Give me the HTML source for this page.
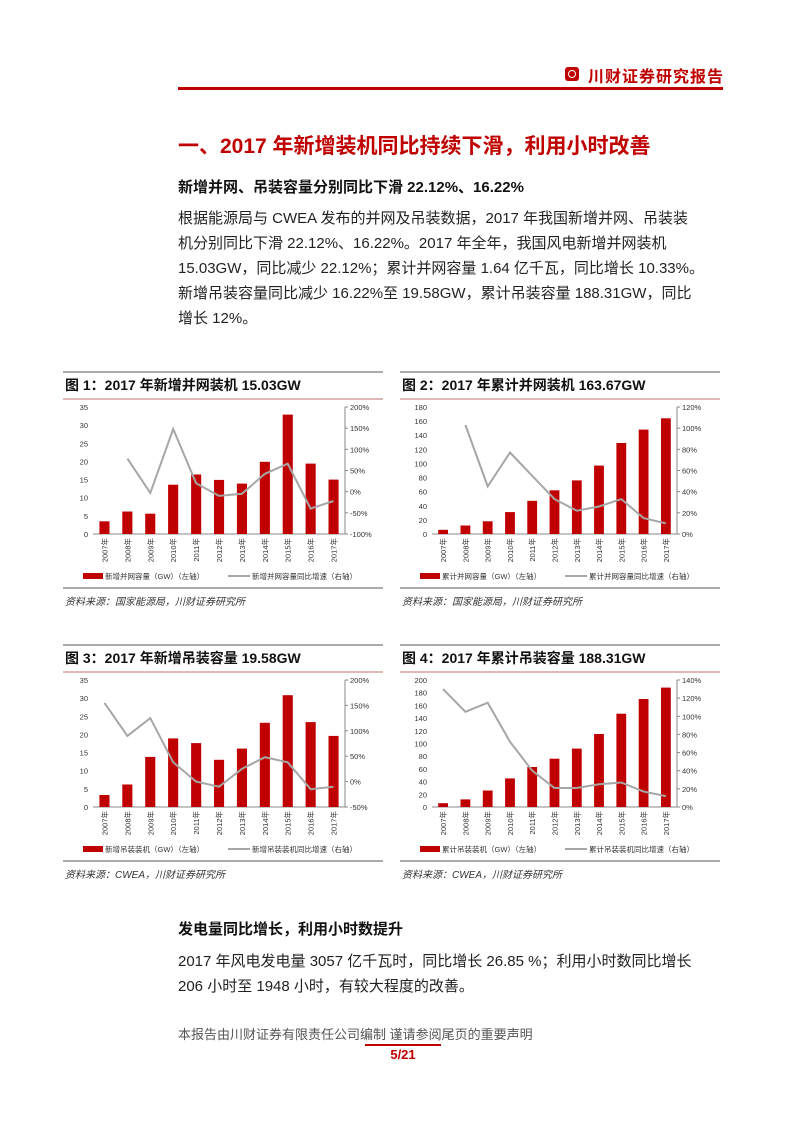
<!DOCTYPE html>
<html><head><meta charset="utf-8"><style>
body{margin:0;background:#fff;font-family:"Liberation Sans","Noto Sans CJK SC",sans-serif;}
#p{position:relative;width:793px;height:1122px;overflow:hidden;}
.a{position:absolute;white-space:nowrap;}
.body{font-size:15px;color:#222;line-height:25px;}
</style></head><body><div id="p">
<div class="a" style="left:565px;top:67px;width:14px;height:14px;background:#c00000;border-radius:3px"></div>
<div class="a" style="left:568px;top:70px;width:8px;height:8px;border:1px solid #fff;border-radius:50%;box-sizing:border-box"></div>
<div class="a" style="left:588px;top:63px;font-size:16px;font-weight:bold;color:#c00000;letter-spacing:1px">川财证券研究报告</div>
<div class="a" style="left:178px;top:87px;width:545px;height:3px;background:#c00000"></div>
<div class="a" style="left:178px;top:130px;font-size:21px;font-weight:bold;color:#c00000">一、2017 年新增装机同比持续下滑，利用小时改善</div>
<div class="a" style="left:178px;top:176px;font-size:15px;font-weight:bold;color:#111">新增并网、吊装容量分别同比下滑 22.12%、16.22%</div>
<div class="a body" style="left:178px;top:206px">根据能源局与 CWEA 发布的并网及吊装数据，2017 年我国新增并网、吊装装<br>机分别同比下滑 22.12%、16.22%。2017 年全年，我国风电新增并网装机<br>15.03GW，同比减少 22.12%；累计并网容量 1.64 亿千瓦，同比增长 10.33%。<br>新增吊装容量同比减少 16.22%至 19.58GW，累计吊装容量 188.31GW，同比<br>增长 12%。</div>
<svg id="s" class="a" style="left:0;top:0" width="793" height="1122"></svg>
<div class="a" style="left:178px;top:918px;font-size:15px;font-weight:bold;color:#111">发电量同比增长，利用小时数提升</div>
<div class="a body" style="left:178px;top:949px">2017 年风电发电量 3057 亿千瓦时，同比增长 26.85 %；利用小时数同比增长<br>206 小时至 1948 小时，有较大程度的改善。</div>
<div class="a" style="left:178px;top:1024px;font-size:13px;color:#555">本报告由川财证券有限责任公司编制 谨请参阅尾页的重要声明</div>
<div class="a" style="left:365px;top:1044px;width:76px;height:2px;background:#c00000"></div>
<div class="a" style="left:365px;top:1047px;width:76px;text-align:center;font-size:13px;font-weight:bold;color:#c00000">5/21</div>
</div>
<script>
var s=document.getElementById('s'),h='';
function t(x,y,str,o){h+='<text x="'+x+'" y="'+y+'" '+(o||'')+'>'+str+'</text>';}
function chart(cx,cy,title,L,R,bars,line,leg1,leg2,src){
 var W=320;
 h+='<line x1="'+cx+'" y1="'+cy+'" x2="'+(cx+W)+'" y2="'+cy+'" stroke="#555" stroke-width="1"/>';
 t(cx+2,cy+18,title,'font-size="14" font-weight="bold" fill="#111"');
 h+='<line x1="'+cx+'" y1="'+(cy+27)+'" x2="'+(cx+W)+'" y2="'+(cy+27)+'" stroke="#c07070" stroke-width="1"/>';
 var x0=cx+L.px,x1=cx+R.px,y0=cy+35,y1=cy+162;
 var lmax=L.max,ln=L.ticks.length-1;
 h+='<line x1="'+x0+'" y1="'+y1+'" x2="'+x1+'" y2="'+y1+'" stroke="#888"/>';
 h+='<line x1="'+x1+'" y1="'+y0+'" x2="'+x1+'" y2="'+y1+'" stroke="#888"/>';
 L.ticks.forEach(function(v,i){var y=y1-(y1-y0)*i/ln;t(x0-5,y+3,v,'font-size="7.5" text-anchor="end" fill="#333"');});
 var rn=R.ticks.length-1;
 R.ticks.forEach(function(v,i){var y=y1-(y1-y0)*i/rn;h+='<line x1="'+x1+'" y1="'+y+'" x2="'+(x1+3)+'" y2="'+y+'" stroke="#888"/>';t(x1+5,y+3,v+'%','font-size="7.5" fill="#333"');});
 var n=11,cw=(x1-x0)/n,pts=[];
 bars.forEach(function(b,i){var bh=(y1-y0)*b/lmax,bx=x0+cw*i+cw*0.28;
  h+='<rect x="'+bx.toFixed(1)+'" y="'+(y1-bh).toFixed(1)+'" width="'+(cw*0.44).toFixed(1)+'" height="'+bh.toFixed(1)+'" fill="#c00000"/>';
  var lx=x0+cw*i+cw/2+3;t(lx,y1+4,(2007+i)+'年','font-size="7.5" fill="#333" text-anchor="end" transform="rotate(-90 '+lx+' '+(y1+4)+')"');
  if(line[i]!=null){var y=y1-(y1-y0)*(line[i]-R.min)/(R.max-R.min);pts.push((x0+cw*i+cw/2).toFixed(1)+','+y.toFixed(1));}
 });
 h+='<polyline points="'+pts.join(' ')+'" fill="none" stroke="#a6a6a6" stroke-width="2"/>';
 var ly=y1+44;
 h+='<rect x="'+(cx+20)+'" y="'+(ly-5)+'" width="20" height="6" fill="#c00000"/>';
 t(cx+42,ly+1,leg1,'font-size="7.5" fill="#333"');
 h+='<line x1="'+(cx+165)+'" y1="'+(ly-2)+'" x2="'+(cx+187)+'" y2="'+(ly-2)+'" stroke="#a6a6a6" stroke-width="2"/>';
 t(cx+189,ly+1,leg2,'font-size="7.5" fill="#333"');
 h+='<line x1="'+cx+'" y1="'+(ly+10)+'" x2="'+(cx+W)+'" y2="'+(ly+10)+'" stroke="#555"/>';
 t(cx+2,ly+27,src,'font-size="10" font-style="italic" fill="#333"');
}
chart(63,372,'图 1：2017 年新增并网装机 15.03GW',{px:30,max:35,ticks:[0,5,10,15,20,25,30,35]},{px:282,min:-100,max:200,ticks:[-100,-50,0,50,100,150,200]},
 [3.5,6.2,5.6,13.6,16.4,14.9,13.9,19.9,32.9,19.4,15],[null,78,-3,148,20,-10,-5,42,66,-40,-22],'新增并网容量（GW）（左轴）','新增并网容量同比增速（右轴）','资料来源：国家能源局，川财证券研究所');
chart(400,372,'图 2：2017 年累计并网装机 163.67GW',{px:32,max:180,ticks:[0,20,40,60,80,100,120,140,160,180]},{px:277,min:0,max:120,ticks:[0,20,40,60,80,100,120]},
 [6,12,18,31,47,62,76,97,129,148,164],[null,103,45,77,55,33,22,26,33,15,10],'累计并网容量（GW）（左轴）','累计并网容量同比增速（右轴）','资料来源：国家能源局，川财证券研究所');
chart(63,645,'图 3：2017 年新增吊装容量 19.58GW',{px:30,max:35,ticks:[0,5,10,15,20,25,30,35]},{px:282,min:-50,max:200,ticks:[-50,0,50,100,150,200]},
 [3.3,6.2,13.8,18.9,17.6,13,16.1,23.2,30.8,23.4,19.6],[155,90,125,38,0,-10,25,48,38,-15,-10],'新增吊装装机（GW）（左轴）','新增吊装装机同比增速（右轴）','资料来源：CWEA，川财证券研究所');
chart(400,645,'图 4：2017 年累计吊装容量 188.31GW',{px:32,max:200,ticks:[0,20,40,60,80,100,120,140,160,180,200]},{px:277,min:0,max:140,ticks:[0,20,40,60,80,100,120,140]},
 [6,12,26,45,63,76,92,115,147,170,188],[130,105,115,72,40,21,21,25,27,17,12],'累计吊装装机（GW）（左轴）','累计吊装装机同比增速（右轴）','资料来源：CWEA，川财证券研究所');
s.innerHTML=h;
</script>
</body></html>
